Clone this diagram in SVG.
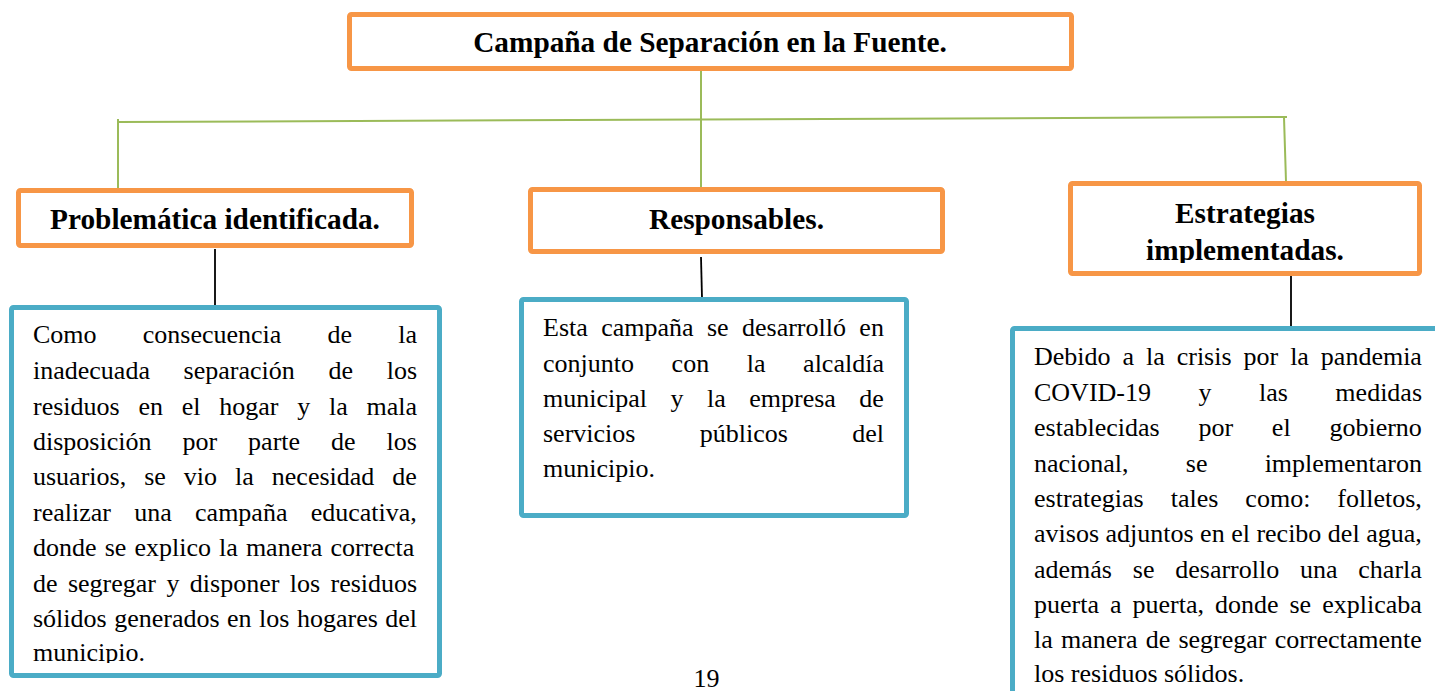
<svg xmlns="http://www.w3.org/2000/svg" width="1435" height="691" viewBox="0 0 1435 691">
<style>
.ob{fill:#fff;stroke:#F79646;stroke-width:5}
.bb{fill:#fff;stroke:#4BACC6;stroke-width:5}
.g{stroke:#9BBB59;stroke-width:2;fill:none}
.k{stroke:#000;stroke-width:1.8;fill:none}
.h{font-family:"Liberation Serif","Times New Roman",serif;font-weight:bold;font-size:29.3px;fill:#000;text-anchor:middle}
.t{font-family:"Liberation Serif","Times New Roman",serif;font-size:26px;fill:#000}
</style>
<defs>
<clipPath id="clipL"><rect x="14" y="310" width="423" height="353"/></clipPath>
<clipPath id="clipE"><rect x="1073" y="186" width="344" height="77"/></clipPath>
</defs>
<rect width="1435" height="691" fill="#fff"/>
<g id="connectors">
<line class="g" x1="701" y1="71" x2="701" y2="188"/>
<line class="g" x1="118" y1="122" x2="1287" y2="117"/>
<line class="g" x1="118" y1="119" x2="118" y2="188"/>
<line class="g" x1="1284" y1="117" x2="1286" y2="182"/>
<line class="k" x1="215" y1="249" x2="215" y2="306"/>
<line class="k" x1="701" y1="257" x2="702" y2="298"/>
<line class="k" x1="1291" y1="274" x2="1291" y2="327"/>
</g>
<g id="title">
<rect class="ob" x="349.5" y="14.5" width="722" height="54" rx="2"/>
<text class="h" x="710" y="52">Campaña de Separación en la Fuente.</text>
</g>
<g id="problematica">
<rect class="ob" x="18.5" y="190.5" width="393" height="55" rx="2"/>
<text class="h" x="215" y="229">Problemática identificada.</text>
</g>
<g id="responsables">
<rect class="ob" x="530.5" y="189.5" width="412" height="62" rx="2"/>
<text class="h" x="736.5" y="229">Responsables.</text>
</g>
<g id="estrategias">
<rect class="ob" x="1070.5" y="183.5" width="349" height="90" rx="2"/>
<g clip-path="url(#clipE)">
<text class="h" x="1245" y="223">Estrategias</text>
<text class="h" x="1245" y="260">implementadas.</text>
</g>
</g>
<g id="problematica-texto">
<rect class="bb" x="11.5" y="307.5" width="428" height="368" rx="2"/>
<g clip-path="url(#clipL)">
<text class="t" x="33" y="343" style="word-spacing:39.7px">Como consecuencia de la</text>
<text class="t" x="33" y="379" style="word-spacing:27.2px">inadecuada separación de los</text>
<text class="t" x="33" y="415" style="word-spacing:12.25px">residuos en el hogar y la mala</text>
<text class="t" x="33" y="450" style="word-spacing:24.5px">disposición por parte de los</text>
<text class="t" x="33" y="485" style="word-spacing:11.5px">usuarios, se vio la necesidad de</text>
<text class="t" x="33" y="521" style="word-spacing:16.8px">realizar una campaña educativa,</text>
<text class="t" x="33" y="556" style="word-spacing:1.6px">donde se explico la manera correcta</text>
<text class="t" x="33" y="592" style="word-spacing:3.9px">de segregar y disponer los residuos</text>
<text class="t" x="33" y="627" style="word-spacing:1px">sólidos generados en los hogares del</text>
<text class="t" x="33" y="661">municipio.</text>
</g>
</g>
<g id="responsables-texto">
<rect class="bb" x="521.5" y="299.5" width="385" height="216" rx="2"/>
<text class="t" x="543" y="336" style="word-spacing:6.9px">Esta campaña se desarrolló en</text>
<text class="t" x="543" y="372" style="word-spacing:31.1px">conjunto con la alcaldía</text>
<text class="t" x="543" y="407" style="word-spacing:17px">municipal y la empresa de</text>
<text class="t" x="543" y="442" style="word-spacing:57.8px">servicios públicos del</text>
<text class="t" x="543" y="477">municipio.</text>
</g>
<g id="estrategias-texto">
<rect class="bb" x="1012.5" y="328.5" width="500" height="400" rx="2"/>
<text class="t" x="1034" y="365" style="word-spacing:5.45px">Debido a la crisis por la pandemia</text>
<text class="t" x="1034" y="401" style="word-spacing:41px">COVID-19 y las medidas</text>
<text class="t" x="1034" y="436" style="word-spacing:32.3px">establecidas por el gobierno</text>
<text class="t" x="1034" y="472" style="word-spacing:50.7px">nacional, se implementaron</text>
<text class="t" x="1034" y="507" style="word-spacing:20.5px">estrategias tales como: folletos,</text>
<text class="t" x="1034" y="542">avisos adjuntos en el recibo del agua,</text>
<text class="t" x="1034" y="578" style="word-spacing:14.3px">además se desarrollo una charla</text>
<text class="t" x="1034" y="613" style="word-spacing:4.5px">puerta a puerta, donde se explicaba</text>
<text class="t" x="1034" y="648" style="word-spacing:1.7px">la manera de segregar correctamente</text>
<text class="t" x="1034" y="682">los residuos sólidos.</text>
</g>
<text class="t" x="706.5" y="687" text-anchor="middle">19</text>
</svg>
